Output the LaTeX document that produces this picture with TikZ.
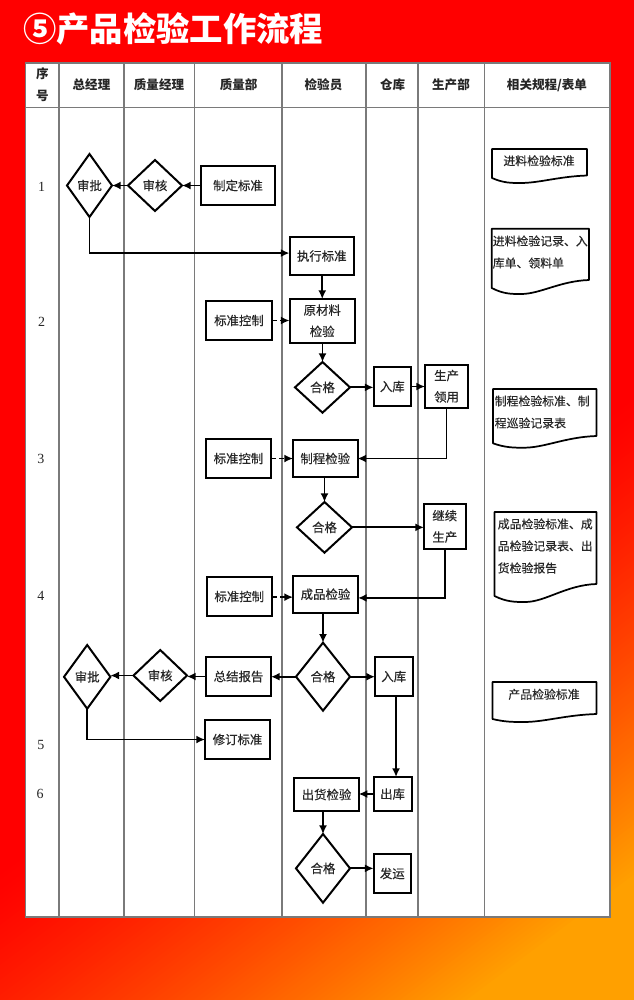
\documentclass[tikz,border=0pt]{standalone}
\usepackage{fontspec}
\setmainfont{Noto Sans CJK SC}
\newfontfamily\medfont[FakeBold=0.35]{Noto Sans CJK SC}
\newfontfamily\numfont{Liberation Serif}
\usetikzlibrary{shapes.geometric,arrows.meta}
\definecolor{ink}{HTML}{262626}
\definecolor{rule}{HTML}{7A7A7A}
\newcommand{\bodyfont}{\fontsize{9.3pt}{16pt}\medfont\selectfont}
\tikzset{
  boxst/.style={draw=black,line width=1.5pt,fill=white,inner sep=0pt,outer sep=0pt,align=center,font=\bodyfont,text=ink},
  decst/.style={diamond,draw=black,line width=1.5pt,fill=white,inner sep=0pt,outer sep=0pt,align=center,font=\bodyfont,text=ink},
  docst/.style={draw=black,line width=1.3pt,fill=white,line join=round},
  doctext/.style={inner sep=0pt,align=left,font=\fontsize{8.9pt}{16.5pt}\medfont\selectfont,text=ink},
  headtext/.style={inner sep=0pt,font=\fontsize{9.4pt}{12pt}\selectfont\bfseries,text=ink},
  numtext/.style={inner sep=0pt,font=\fontsize{10.5pt}{12pt}\numfont\selectfont,text=ink},
  tablerule/.style={draw=rule,line width=0.9pt},
  flow/.style={-{Latex[length=6.5pt,width=6pt]},line width=1.4pt,draw=black},
  ctrl/.style={flow,dash pattern=on 4pt off 2pt},
}
\newcommand{\bx}[6]{%
  \pgfmathsetmacro\bw{(#4-#2)*0.75}\pgfmathsetmacro\bh{(#5-#3)*0.75}%
  \node[boxst,minimum width=\bw pt,minimum height=\bh pt] (#1) at ({(#2+#4)/2},{(#3+#5)/2}) {#6};}
\newcommand{\dm}[6]{%
  \pgfmathsetmacro\bw{(#4-#2)*0.75}\pgfmathsetmacro\bh{(#5-#3)*0.75}%
  \node[decst,minimum width=\bw pt,minimum height=\bh pt] (#1) at ({(#2+#4)/2},{(#3+#5)/2}) {#6};}
% left, top, right, left-end y, lowest y, right-end y
\newcommand{\docshape}[6]{%
  \pgfmathsetmacro\dw{#3-#1}%
  \draw[docst] (#1,#2) -- (#3,#2) -- (#3,#6)
    .. controls ({#3-.3*\dw},{#6+1}) and ({#1+.5*\dw},#5) .. ({#1+.3*\dw},#5)
    .. controls ({#1+.2*\dw},#5) and ({#1+.12*\dw},#5) .. (#1,#4) -- cycle;}
\begin{document}
\begin{tikzpicture}[x=0.75pt,y=-0.75pt]
\useasboundingbox (0,0) rectangle (634,1000);
% background gradient
\begin{scope}
\clip (0,0) rectangle (634,1000);
\fill[red] (0,0) rectangle (634,1000);
\foreach \t in {692,696,...,1180}{
  \pgfmathtruncatemacro\gch{min(160,160*(max(\t-690,0)/390)^1.3)}
  \definecolor{gradstep}{RGB}{255,\gch,0}
  \fill[gradstep] ({.6*\t-1600},{.8*\t+1200}) -- ({.6*\t+1600},{.8*\t-1200})
     -- ({.6*\t+2800},{.8*\t+400}) -- ({.6*\t-400},{.8*\t+2800}) -- cycle;
}
\end{scope}
% title
\node[anchor=west,inner sep=0pt,text=white,font=\fontsize{25pt}{30pt}\selectfont\bfseries] (title) at (23,28.5) {⑤产品检验工作流程};
% table
\draw[tablerule,fill=white] (25.5,63) rectangle (610,917);
\foreach \cx in {59,124,194.5,282,366,418,484.5}{\draw[tablerule] (\cx,63) -- (\cx,917);}
\draw[tablerule] (25.5,107.5) -- (610,107.5);
% header
\node[headtext] (h0a) at (42.5,74) {序};
\node[headtext] (h0b) at (42.5,95.5) {号};
\node[headtext] (h1) at (91.5,85) {总经理};
\node[headtext] (h2) at (159,85) {质量经理};
\node[headtext] (h3) at (238.6,85) {质量部};
\node[headtext] (h4) at (323.5,85) {检验员};
\node[headtext] (h5) at (392.6,85) {仓库};
\node[headtext] (h6) at (451,85) {生产部};
\node[headtext] (h7) at (547,85) {相关规程/表单};
% row numbers
\node[numtext] (n1) at (41.5,187) {1};
\node[numtext] (n2) at (41.5,322) {2};
\node[numtext] (n3) at (41,459) {3};
\node[numtext] (n4) at (41,596) {4};
\node[numtext] (n5) at (41,745) {5};
\node[numtext] (n6) at (40,794) {6};
% flow nodes
\dm{sp1}{67}{154}{112}{217}{审批}
\dm{sh1}{128}{160}{182}{211}{审核}
\bx{zd}{201}{166}{275}{205}{制定标准}
\bx{zx}{289.5}{237}{354}{275}{执行标准}
\bx{ycl}{289.5}{299}{355}{342.5}{原材料\\检验}
\bx{bk1}{206}{301}{272}{340}{标准控制}
\dm{hg1}{295}{362}{350}{412.7}{合格}
\bx{rk1}{373.6}{367}{411}{406}{入库}
\bx{ly}{425}{364.7}{468}{407.7}{生产\\领用}
\bx{bk2}{206}{439}{271}{478}{标准控制}
\bx{zc}{293}{440}{357.5}{477}{制程检验}
\dm{hg2}{297}{502}{352}{552.7}{合格}
\bx{jx}{424}{504}{465.5}{548.7}{继续\\生产}
\bx{bk3}{206.6}{577}{272}{616}{标准控制}
\bx{cp}{293}{575.7}{358}{612.7}{成品检验}
\dm{hg3}{296}{642.7}{350}{710.7}{合格}
\bx{rk2}{375}{657}{412.5}{696}{入库}
\bx{zj}{206}{657}{271}{696}{总结报告}
\dm{sh2}{133.5}{650}{187}{701}{审核}
\dm{sp2}{64}{645}{110.4}{708.7}{审批}
\bx{xd}{205}{720}{270}{759}{修订标准}
\bx{ch}{294.4}{778}{358.7}{811}{出货检验}
\bx{ck}{373.6}{777}{411.6}{811}{出库}
\dm{hg4}{296}{834}{350}{902.7}{合格}
\bx{fy}{373.6}{854}{411}{893}{发运}
% connectors
\draw[flow] (zd) -- (sh1);
\draw[flow] (sh1) -- (sp1);
\coordinate (zxin) at ([yshift=2.2pt]zx.west);
\draw[flow] (sp1.south) |- (zxin);
\draw[flow] (zx.south -| ycl.north) -- (ycl.north);
\draw[ctrl] (bk1.east) -- (bk1.east -| ycl.west);
\draw[flow] (ycl.south -| hg1.north) -- (hg1.north);
\draw[flow] (hg1.east) -- (hg1.east -| rk1.west);
\draw[flow] (rk1.east) -- (rk1.east -| ly.west);
\draw[flow] (ly.south) |- (zc.east);
\draw[ctrl] (bk2.east |- zc.west) -- (zc.west);
\draw[flow] (zc.south -| hg2.north) -- (hg2.north);
\draw[flow] (hg2.east) -- (hg2.east -| jx.west);
\coordinate (cpin) at ([yshift=-2.8pt]cp.east);
\draw[flow] (jx.south) |- (cpin);
\coordinate (cpin2) at ([yshift=-2.2pt]cp.west);
\draw[ctrl] (bk3.east |- cpin2) -- (cpin2);
\draw[flow] (cp.south -| hg3.north) -- (hg3.north);
\draw[flow] (hg3.west) -- (hg3.west -| zj.east);
\draw[flow] (zj.west) -- (zj.west -| sh2.east);
\draw[flow] (sh2.west) -- (sh2.west -| sp2.east);
\draw[flow] (sp2.south) |- (xd.west);
\draw[flow] (hg3.east) -- (hg3.east -| rk2.west);
\coordinate (rkout) at ([xshift=1.7pt]rk2.south);
\draw[flow] (rkout) -- (rkout |- ck.north);
\draw[flow] (ck.west) -- (ck.west -| ch.east);
\draw[flow] (ch.south -| hg4.north) -- (hg4.north);
\draw[flow] (hg4.east) -- (hg4.east -| fy.west);
% documents
\docshape{492}{149}{587}{178}{183}{175.5}
\node[doctext] (d1) at (539,160.7) {进料检验标准};
\docshape{491.7}{228.7}{589}{288}{294}{280}
\node[doctext,anchor=west] (d2) at (492.5,252) {进料检验记录、入\\库单、领料单};
\docshape{493}{389}{596.5}{443.3}{447.7}{436}
\node[doctext,anchor=west] (d3) at (494.5,412) {制程检验标准、制\\程巡验记录表};
\docshape{494.5}{512}{596.5}{596}{602}{584}
\node[doctext,anchor=west] (d4) at (497.5,546) {成品检验标准、成\\品检验记录表、出\\货检验报告};
\docshape{492.5}{682}{596.5}{719}{722}{714}
\node[doctext] (d5) at (544,694.3) {产品检验标准};
\end{tikzpicture}
\end{document}
